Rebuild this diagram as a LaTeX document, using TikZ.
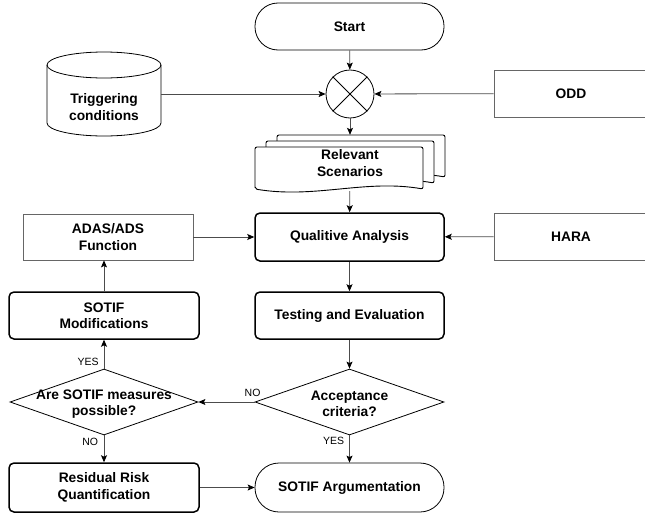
\documentclass[tikz,border=0pt]{standalone}
\usepackage{fontspec}
\setmainfont{Liberation Sans}
\usetikzlibrary{arrows.meta,shapes.geometric}
\def\docpage(#1,#2){\draw[fill=white, line width=0.9pt, rounded corners=2pt] (#1,#2+42) -- (#1,#2) -- (#1+168,#2) -- (#1+168,#2+42) .. controls (#1+110,#2+32) and (#1+60,#2+52) .. (#1,#2+42) -- cycle;}

\tikzset{
	txt/.style={font=\fontsize{13.8}{16.5}\selectfont\bfseries, align=center, inner sep=0pt},
	plainbox/.style={txt, rectangle, draw=black!60, line width=0.8pt},
	stepbox/.style={txt, rectangle, draw=black, line width=1.5pt, rounded corners=5pt},
	termbox/.style={txt, rectangle, draw=black, line width=0.8pt, rounded corners=23pt},
	decide/.style={diamond, draw=black, line width=0.8pt, inner sep=0pt},
	lbl/.style={font=\fontsize{10.5}{12}\selectfont, inner sep=1.5pt},
	conn/.style={draw=black!70, line width=0.8pt, -{Stealth[length=7pt, width=6pt, inset=1.5pt, color=black]}}
}

\begin{document}
\begin{tikzpicture}[x=1pt, y=-1pt]
		%%%%% START %%%%%
		\path[use as bounding box, fill=white] (0,0) rectangle (645,514);
		
		\node[termbox, minimum width=189pt, minimum height=47pt] (start) at (349.5,26.5) {Start};
		
		\draw[line width=0.8pt] (47,65) -- (47,123) arc[start angle=180, end angle=360, x radius=57pt, y radius=13pt] -- (161,65);
		\draw[line width=0.8pt] (104,65) ellipse[x radius=57pt, y radius=13pt];
		\node[txt, minimum width=114pt, minimum height=84pt, label={[txt, yshift=-13pt]center:{Triggering\\conditions}}] (trig) at (104,94) {};
		
		\node[circle, draw=black, line width=0.8pt, minimum size=48pt, inner sep=0pt] (circ) at (350,94) {};
		\draw[line width=0.8pt] (circ.north west) -- (circ.south east);
		\draw[line width=0.8pt] (circ.north east) -- (circ.south west);
		
		\node[plainbox, minimum width=154pt, minimum height=47pt] (odd) at (571,93.5) {ODD};
		
		\docpage(277,135);
		\docpage(266,141);
		\docpage(255,147);
		\node[txt, minimum width=190pt, minimum height=56pt] (scen) at (350,163) {Relevant\\Scenarios};
		
		\node[plainbox, minimum width=170pt, minimum height=46pt] (adas) at (108,237) {ADAS/ADS\\Function};
		\node[stepbox, minimum width=189pt, minimum height=48pt] (qa) at (349.5,237) {Qualitive Analysis};
		\node[plainbox, minimum width=154pt, minimum height=47pt] (hara) at (571,236.5) {HARA};
		
		\node[stepbox, minimum width=190pt, minimum height=47pt] (mod) at (104,315.5) {SOTIF\\Modifications};
		\node[stepbox, minimum width=189pt, minimum height=47pt] (test) at (349.5,315.5) {Testing and Evaluation};
		
		\node[decide, minimum width=188pt, minimum height=66pt, label={[txt, yshift=-2pt]center:{Are SOTIF measures\\possible?}}] (meas) at (104,402) {};
		\node[decide, minimum width=189pt, minimum height=66pt, label={[txt, yshift=-2pt]center:{Acceptance\\criteria?}}] (acc) at (349.5,402) {};
		
		\node[stepbox, minimum width=190pt, minimum height=49pt] (resid) at (104,487.5) {Residual Risk\\Quantification};
		\node[termbox, rounded corners=24pt, minimum width=189pt, minimum height=49pt] (arg) at (349.5,487.5) {SOTIF Argumentation};
		
		\draw[conn] (start) -- (circ);
		\draw[conn] (trig) -- (circ);
		\draw[conn] (odd) -- (circ);
		\draw[conn] (circ) -- (scen);
		\draw[conn] (scen) -- (qa);
		\draw[conn] (adas) -- (qa);
		\draw[conn] (hara) -- (qa);
		\draw[conn] (qa) -- (test);
		\draw[conn] (test) -- (acc);
		\draw[conn] (acc) -- (meas) node[lbl, pos=0, above, xshift=-2pt, yshift=4pt] {NO};
		\draw[conn] (acc) -- (arg) node[lbl, pos=0.21, left, xshift=-3.5pt] {YES};
		\draw[conn] (meas) -- (mod) node[lbl, pos=0.23, left, xshift=-3.5pt] {YES};
		\draw[conn] (meas) -- (resid) node[lbl, pos=0.25, left, xshift=-4pt] {NO};
		\draw[conn] (mod.north) -- (mod.north |- adas.south);
		\draw[conn] (resid) -- (arg);
		
		%%%%% END %%%%%
	\end{tikzpicture}
\end{document}
